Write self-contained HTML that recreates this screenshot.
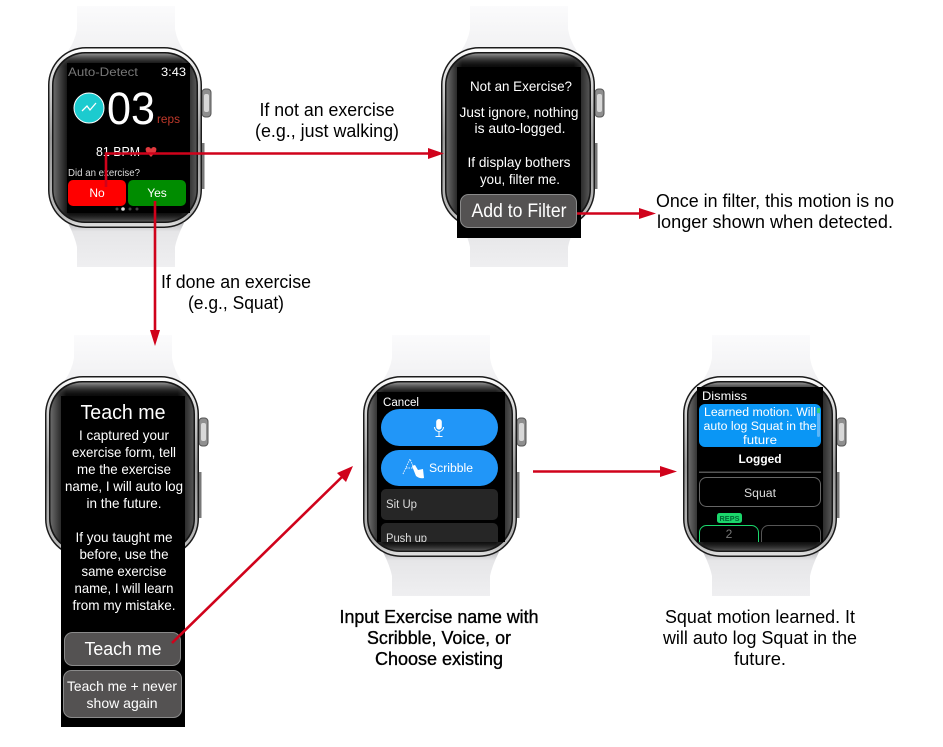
<!DOCTYPE html>
<html><head><meta charset="utf-8"><title>Watch flow</title>
<style>
html,body{margin:0;padding:0;background:#fff;width:943px;height:747px;overflow:hidden}
svg{display:block}
text{font-family:"Liberation Sans",sans-serif}
.w{fill:#fff}
.c{text-anchor:middle}
.cap{font-size:18px;fill:#000;text-anchor:middle}
</style></head><body>
<svg width="943" height="747" viewBox="0 0 943 747" xmlns="http://www.w3.org/2000/svg">
<defs>
<linearGradient id="bandT" x1="0" y1="0" x2="0" y2="1"><stop offset="0" stop-color="#fbfbfc"/><stop offset="1" stop-color="#f1f1f3"/></linearGradient>
<linearGradient id="bandB" x1="0" y1="0" x2="0" y2="1"><stop offset="0" stop-color="#bdbdc0"/><stop offset=".2" stop-color="#e6e6e8"/><stop offset="1" stop-color="#efeff1"/></linearGradient>
<linearGradient id="rim" x1="0" y1="0" x2="0" y2="1"><stop offset="0" stop-color="#fff"/><stop offset=".06" stop-color="#eee"/><stop offset=".5" stop-color="#9a9a9a"/><stop offset=".94" stop-color="#bbb"/><stop offset="1" stop-color="#e0e0e0"/></linearGradient>
<linearGradient id="inner" x1="0" y1="0" x2="1" y2="0"><stop offset="0" stop-color="#6a6a6a"/><stop offset=".11" stop-color="#0a0a0a"/><stop offset=".89" stop-color="#0a0a0a"/><stop offset="1" stop-color="#555"/></linearGradient>
<linearGradient id="vert" x1="0" y1="0" x2="0" y2="1"><stop offset="0" stop-color="#aaa" stop-opacity=".85"/><stop offset=".09" stop-color="#000" stop-opacity="0"/><stop offset=".93" stop-color="#000" stop-opacity="0"/><stop offset="1" stop-color="#888" stop-opacity=".6"/></linearGradient>
<g id="watch">
<path d="M29 -41H127V-18Q129 -6 136 4H20Q27 -6 29 -18Z" fill="url(#bandT)"/>
<path d="M20 176H136Q129 190 127 200V220H29V200Q27 190 20 176Z" fill="url(#bandB)"/>
<rect x="154" y="42" width="9" height="28" rx="3.500" fill="#8f8f8f" stroke="#555"/>
<rect x="156" y="47" width="5" height="18" rx="2" fill="#d8d8d8"/>
<rect x="154" y="96" width="2.500" height="46" fill="#777"/>
<rect x="0" y="0" width="154" height="181" rx="38" fill="#1c1c1c"/>
<rect x="1.500" y="1.500" width="151" height="178" rx="36.500" fill="url(#rim)"/>
<rect x="4" y="5" width="146" height="171" rx="33" fill="#161616"/>
<rect x="5.500" y="6.500" width="143" height="168" rx="32" fill="url(#inner)"/>
<rect x="5.500" y="6.500" width="143" height="168" rx="32" fill="url(#vert)"/>
</g>
<clipPath id="s4"><rect x="377" y="392" width="128" height="150"/></clipPath>
<clipPath id="s5"><rect x="697" y="387" width="126" height="155"/></clipPath>
</defs>

<!-- Watch 1 -->
<use href="#watch" x="48" y="47"/>
<rect x="67" y="63" width="123" height="150" fill="#000"/>
<text x="68" y="76" font-size="12" fill="#777" textLength="70" lengthAdjust="spacingAndGlyphs">Auto-Detect</text>
<text x="186" y="76" font-size="12" class="w" text-anchor="end" textLength="25" lengthAdjust="spacingAndGlyphs">3:43</text>
<circle cx="89" cy="108" r="15" fill="#1ccbcf" stroke="#fff" stroke-width="1"/>
<path d="M82 111L87 106L90 110L96 103" fill="none" stroke="#fff" stroke-width="1.300"/>
<text x="107" y="124" font-size="45" class="w" textLength="48" lengthAdjust="spacingAndGlyphs">03</text>
<text x="157" y="123" font-size="12" fill="#c0392b" textLength="23" lengthAdjust="spacingAndGlyphs">reps</text>
<text x="96" y="156" font-size="13" class="w" textLength="44" lengthAdjust="spacingAndGlyphs">81 BPM</text>
<path d="M151 157L146 151.500Q144.500 147.500 148 147Q150 147 151 149Q152 147 154 147Q157.500 147.500 156 151.500Z" fill="#e0393e"/>
<text x="68" y="176" font-size="10" fill="#ddd" textLength="72" lengthAdjust="spacingAndGlyphs">Did an exercise?</text>
<rect x="68" y="180" width="58" height="26" rx="5" fill="#ff0000"/>
<rect x="128" y="180" width="58" height="26" rx="5" fill="#008c00"/>
<text x="97" y="197" font-size="12" class="w c">No</text>
<text x="157" y="197" font-size="12" class="w c">Yes</text>
<circle cx="117" cy="209" r="1.500" fill="#444"/><circle cx="123" cy="209" r="1.800" fill="#ddd"/><circle cx="130" cy="209" r="1.500" fill="#444"/><circle cx="137" cy="209" r="1.500" fill="#444"/>

<!-- Watch 2 -->
<use href="#watch" x="441" y="47"/>
<rect x="457" y="67" width="124" height="171" fill="#000"/>
<text x="521" y="91" font-size="14" class="w c" textLength="102" lengthAdjust="spacingAndGlyphs">Not an Exercise?</text>
<text x="519" y="117" font-size="14" class="w c" textLength="119" lengthAdjust="spacingAndGlyphs">Just ignore, nothing</text>
<text x="520" y="133" font-size="14" class="w c" textLength="91" lengthAdjust="spacingAndGlyphs">is auto-logged.</text>
<text x="519" y="167" font-size="14" class="w c" textLength="103" lengthAdjust="spacingAndGlyphs">If display bothers</text>
<text x="520" y="184" font-size="14" class="w c" textLength="80" lengthAdjust="spacingAndGlyphs">you, filter me.</text>
<rect x="460.500" y="194.500" width="116" height="33" rx="8" fill="#545252" stroke="#8a8a8a"/>
<text x="519" y="217" font-size="19" class="w c" textLength="95" lengthAdjust="spacingAndGlyphs">Add to Filter</text>

<!-- Watch 3 -->
<use href="#watch" x="45" y="376"/>
<rect x="61" y="396" width="124" height="331" fill="#000"/>
<text x="123" y="419" font-size="20" class="w c" textLength="85" lengthAdjust="spacingAndGlyphs">Teach me</text>
<g font-size="14">
<text x="124" y="440" class="w c" textLength="90" lengthAdjust="spacingAndGlyphs">I captured your</text>
<text x="124" y="457" class="w c" textLength="104" lengthAdjust="spacingAndGlyphs">exercise form, tell</text>
<text x="124" y="474" class="w c" textLength="94" lengthAdjust="spacingAndGlyphs">me the exercise</text>
<text x="124" y="491" class="w c" textLength="118" lengthAdjust="spacingAndGlyphs">name, I will auto log</text>
<text x="124" y="508" class="w c" textLength="75" lengthAdjust="spacingAndGlyphs">in the future.</text>
<text x="124" y="542" class="w c" textLength="97" lengthAdjust="spacingAndGlyphs">If you taught me</text>
<text x="124" y="559" class="w c" textLength="89" lengthAdjust="spacingAndGlyphs">before, use the</text>
<text x="124" y="576" class="w c" textLength="85" lengthAdjust="spacingAndGlyphs">same exercise</text>
<text x="124" y="593" class="w c" textLength="99" lengthAdjust="spacingAndGlyphs">name, I will learn</text>
<text x="124" y="610" class="w c" textLength="103" lengthAdjust="spacingAndGlyphs">from my mistake.</text>
</g>
<rect x="64.500" y="632.500" width="116" height="33" rx="8" fill="#545252" stroke="#8a8a8a"/>
<text x="123" y="655" font-size="18" class="w c" textLength="77" lengthAdjust="spacingAndGlyphs">Teach me</text>
<rect x="63.500" y="670.500" width="118" height="47" rx="8" fill="#545252" stroke="#8a8a8a"/>
<text x="122" y="691" font-size="14" class="w c" textLength="110" lengthAdjust="spacingAndGlyphs">Teach me + never</text>
<text x="122" y="708" font-size="14" class="w c" textLength="71" lengthAdjust="spacingAndGlyphs">show again</text>

<!-- Watch 4 -->
<use href="#watch" x="363" y="376"/>
<rect x="377" y="392" width="128" height="150" fill="#000"/>
<g clip-path="url(#s4)">
<text x="383" y="406" font-size="11.500" class="w" textLength="36" lengthAdjust="spacingAndGlyphs">Cancel</text>
<rect x="381" y="409" width="117" height="37" rx="18.500" fill="#2196f8"/>
<rect x="381" y="450" width="117" height="36" rx="18" fill="#2196f8"/>
<path d="M439 419a2.800 2.800 0 0 1 2.800 2.800v5a2.800 2.800 0 0 1-5.600 0v-5a2.800 2.800 0 0 1 2.800-2.800Z" fill="#fff"/>
<path d="M434.500 427a4.500 4.500 0 0 0 9 0M439 431.500V436M435.500 436.500H442.500" fill="none" stroke="#fff" stroke-width="1"/>
<path d="M403 474L410 459L416 473M406 468H413" fill="none" stroke="#dfeeff" stroke-width="1" stroke-dasharray="1.500 1"/>
<path d="M412 466L415 465L418 470L423 469L424 478Q420 479 416 476Z" fill="#fff"/>
<text x="429" y="472" font-size="11.500" class="w" textLength="44" lengthAdjust="spacingAndGlyphs">Scribble</text>
<rect x="381" y="489" width="117" height="31" rx="5" fill="#262626"/>
<rect x="381" y="523" width="117" height="30" rx="5" fill="#262626"/>
<text x="386" y="508" font-size="11.500" fill="#ddd" textLength="31" lengthAdjust="spacingAndGlyphs">Sit Up</text>
<text x="386" y="542" font-size="11.500" fill="#ddd" textLength="41" lengthAdjust="spacingAndGlyphs">Push up</text>
</g>

<!-- Watch 5 -->
<use href="#watch" x="683" y="376"/>
<rect x="697" y="387" width="126" height="155" fill="#000"/>
<g clip-path="url(#s5)">
<text x="702" y="400" font-size="12" class="w" textLength="45" lengthAdjust="spacingAndGlyphs">Dismiss</text>
<rect x="699" y="404" width="122" height="43" rx="6" fill="#0a96f5"/>
<text x="760" y="416" font-size="11.500" class="w c" textLength="112" lengthAdjust="spacingAndGlyphs">Learned motion. Will</text>
<text x="760" y="430" font-size="11.500" class="w c" textLength="113" lengthAdjust="spacingAndGlyphs">auto log Squat in the</text>
<text x="760" y="444" font-size="11.500" class="w c" textLength="34" lengthAdjust="spacingAndGlyphs">future</text>
<rect x="817" y="408" width="3" height="5" fill="#35d07f"/>
<rect x="817" y="413" width="3" height="24" rx="1.500" fill="#5cb6f8"/>
<text x="760" y="463" font-size="12" font-weight="bold" class="w c" textLength="43" lengthAdjust="spacingAndGlyphs">Logged</text>
<rect x="699" y="471.500" width="122" height="1.500" fill="#555"/>
<rect x="699.500" y="477.500" width="121" height="29" rx="7" fill="none" stroke="#666"/>
<text x="760" y="497" font-size="11.500" fill="#ddd" class="c" textLength="32" lengthAdjust="spacingAndGlyphs">Squat</text>
<rect x="717" y="513" width="25" height="10" rx="2.500" fill="#1bd66b"/>
<text x="729.500" y="521" font-size="7.500" font-weight="bold" fill="#063" class="c" textLength="20" lengthAdjust="spacingAndGlyphs">REPS</text>
<rect x="699.500" y="525.500" width="59" height="40" rx="7" fill="none" stroke="#1bd66b"/>
<rect x="761.500" y="525.500" width="59" height="40" rx="7" fill="none" stroke="#555"/>
<text x="729" y="538" font-size="12" fill="#777" class="c">2</text>
</g>

<!-- Captions -->
<text x="327" y="116" class="cap" textLength="135" lengthAdjust="spacingAndGlyphs">If not an exercise</text>
<text x="327" y="137" class="cap" textLength="144" lengthAdjust="spacingAndGlyphs">(e.g., just walking)</text>
<text x="236" y="288" class="cap" textLength="150" lengthAdjust="spacingAndGlyphs">If done an exercise</text>
<text x="236" y="309" class="cap" textLength="96" lengthAdjust="spacingAndGlyphs">(e.g., Squat)</text>
<text x="775" y="207" class="cap" textLength="238" lengthAdjust="spacingAndGlyphs">Once in filter, this motion is no</text>
<text x="775" y="228" class="cap" textLength="236" lengthAdjust="spacingAndGlyphs">longer shown when detected.</text>
<text x="439" y="623" class="cap" textLength="199" lengthAdjust="spacingAndGlyphs" stroke="#000" stroke-width=".35">Input Exercise name with</text>
<text x="439" y="644" class="cap" textLength="144" lengthAdjust="spacingAndGlyphs" stroke="#000" stroke-width=".35">Scribble, Voice, or</text>
<text x="439" y="665" class="cap" textLength="128" lengthAdjust="spacingAndGlyphs" stroke="#000" stroke-width=".35">Choose existing</text>
<text x="760" y="623" class="cap" textLength="190" lengthAdjust="spacingAndGlyphs">Squat motion learned. It</text>
<text x="760" y="644" class="cap" textLength="194" lengthAdjust="spacingAndGlyphs">will auto log Squat in the</text>
<text x="760" y="665" class="cap" textLength="52" lengthAdjust="spacingAndGlyphs">future.</text>

<!-- Arrows -->
<g fill="none" stroke="#d0021b" stroke-width="2.600">
<path d="M106 187V153.500H432"/>
<path d="M155 201V334"/>
<path d="M577 213.500H642"/>
<path d="M172 643L346 473"/>
<path d="M533 471.500H664"/>
</g>
<g fill="#d0021b">
<path d="M444 153.500L428 148V159Z"/>
<path d="M155 346L150 330H160Z"/>
<path d="M656 213.500L639 208V219Z"/>
<path d="M353 466L337 473L346 482Z"/>
<path d="M677 471.500L660 466V477Z"/>
</g>
</svg>
</body></html>
